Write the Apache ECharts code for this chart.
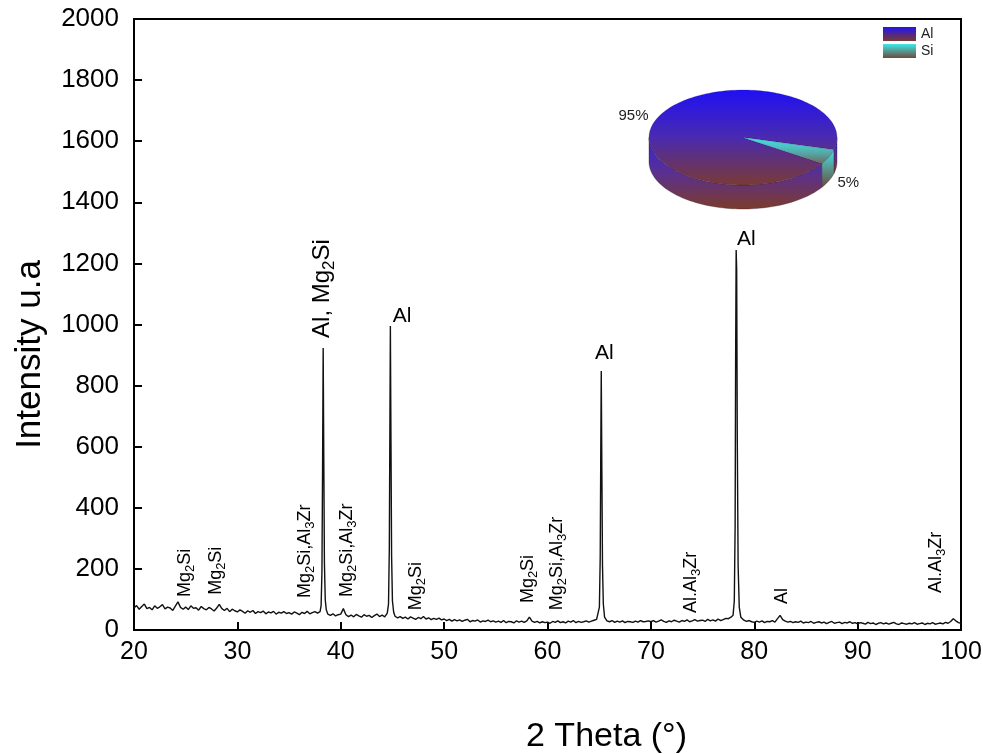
<!DOCTYPE html>
<html>
<head>
<meta charset="utf-8">
<script src="https://cdn.jsdelivr.net/npm/echarts@6/dist/echarts.min.js"></script>
<style>html,body{margin:0;padding:0;background:#fff}#chart{width:983px;height:754px}</style>
</head>
<body>
<div id="chart"></div>
<script>
// ---------- data ----------
const xTickValues = [20, 30, 40, 50, 60, 70, 80, 90, 100];
const yTickValues = [0, 200, 400, 600, 800, 1000, 1200, 1400, 1600, 1800, 2000];

// background intensity sampled every 0.25 deg from 20 to 100
const bgStart = 20, bgStep = 0.25;
const background = [
  72,80,68,77,85,70,74,66,79,71,76,83,69,75,72,64,78,92,74,68,
  75,67,79,71,73,65,77,70,66,74,69,62,72,84,70,64,71,60,68,63,
  59,66,61,55,63,58,64,54,60,57,62,53,59,56,61,52,58,55,60,54,
  57,52,59,55,50,58,54,61,53,57,60,55,58,56,55,52,48,53,46,50,
  52,70,50,44,49,43,51,46,42,50,45,48,41,47,52,44,49,43,55,50,
  48,45,40,44,38,42,36,43,39,35,41,37,44,36,40,34,38,35,39,33,
  36,31,35,29,34,30,33,28,32,35,27,31,29,33,26,30,28,32,27,30,
  26,29,25,31,24,28,27,23,30,26,29,25,30,42,29,25,28,23,27,24,
  26,22,28,25,30,24,27,23,29,26,31,24,28,25,27,30,26,29,32,35,
  40,36,34,30,27,31,25,29,26,30,24,28,27,25,29,26,31,27,28,30,
  27,31,26,29,33,28,25,30,27,32,29,26,31,28,33,27,30,34,29,31,
  32,28,35,30,33,29,36,31,34,38,37,42,45,44,42,40,32,28,31,27,
  25,29,26,30,24,28,27,31,26,37,48,34,29,26,28,24,27,25,29,23,
  26,24,28,22,25,27,23,26,21,25,28,22,24,26,21,25,23,27,22,24,
  20,24,22,19,25,21,23,18,22,24,20,23,19,22,25,20,18,23,21,19,
  22,20,24,19,21,23,18,22,20,24,19,21,23,20,25,22,28,37,30,24,
  22
];

// main reflections measured finer: [2theta, intensity]
const peakCenters = [38.3, 44.8, 65.2, 78.25];
const peakPoints = [
  [38.0,60],[38.1,80],[38.18,190],[38.24,520],[38.3,923],[38.36,560],[38.42,220],[38.5,100],[38.6,66],
  [44.5,55],[44.62,85],[44.7,270],[44.75,640],[44.8,995],[44.86,610],[44.92,240],[45.0,95],[45.12,58],
  [64.9,40],[65.02,75],[65.1,240],[65.15,560],[65.2,848],[65.26,520],[65.32,210],[65.4,85],[65.52,42],
  [77.95,48],[78.07,95],[78.15,340],[78.2,900],[78.25,1244],[78.3,1180],[78.36,620],[78.44,210],[78.55,75],[78.7,42]
];

// phase annotations
const annotationText = ['Mg2Si','Mg2Si','Mg2Si,Al3Zr','Al, Mg2Si','Mg2Si,Al3Zr','Al','Mg2Si','Mg2Si','Mg2Si,Al3Zr','Al','Al.Al3Zr','Al','Al','Al.Al3Zr'];
const annotationX    = [24.94, 27.94, 36.55, 38.2, 40.6, 45.94, 47.3, 58.14, 60.95, 65.5, 73.92, 79.24, 82.73, 97.54];
const annotationY    = [108, 115, 105, 956, 108, 1028, 65, 88, 65, 905, 56, 1278, 85, 121];
const annotationKind = ['minor','minor','minor','majorRot','minor','major','minor','minor','minor','major','minor','major','minor','minor'];

// inset pie (phase fraction)
const pieNames = ['Al', 'Si'];
const pieValues = [95, 5];

// ---------- build ----------
const xrd = [];
background.forEach(function (v, i) {
  const x = bgStart + i * bgStep;
  const near = peakCenters.some(function (c) { return Math.abs(x - c) <= 0.31; });
  if (!near) xrd.push([x, v]);
});
peakPoints.forEach(function (p) { xrd.push([p[0], p[1]]); });
xrd.sort(function (a, b) { return a[0] - b[0]; });

const FONT = '"Liberation Sans", Arial, sans-serif';
const kindStyle = {
  minor:    { fontSize: 18, lineHeight: 24, rotate: 90, align: 'left',   sub: { fontSize: 13, lineHeight: 13 } },
  majorRot: { fontSize: 24, lineHeight: 31, rotate: 90, align: 'left',   sub: { fontSize: 17, lineHeight: 17 } },
  major:    { fontSize: 21, lineHeight: 24, rotate: 0,  align: 'center', sub: { fontSize: 15, lineHeight: 15 } }
};
const annData = annotationText.map(function (t, i) {
  const k = kindStyle[annotationKind[i]];
  return {
    value: [annotationX[i], annotationY[i]],
    label: {
      show: true,
      position: ['50%', '50%'],
      rotate: k.rotate,
      align: k.align,
      verticalAlign: 'middle',
      fontSize: k.fontSize,
      lineHeight: k.lineHeight,
      fontFamily: FONT,
      color: '#000',
      opacity: 1,
      formatter: t.replace(/(\d)/g, '{s|$1}'),
      rich: { s: { fontSize: k.sub.fontSize, lineHeight: k.sub.lineHeight, verticalAlign: 'bottom', fontFamily: FONT, color: '#000' } }
    }
  };
});

// pie geometry
const PIE = { cx: 743, cy: 137.5, rx: 94, ry: 47.5, depth: 24, start: 33 };
const pieTotal = pieValues.reduce(function (a, b) { return a + b; }, 0);
function sliceRange(i) {
  let a = PIE.start;
  for (let k = 0; k < i; k++) a += pieValues[k] / pieTotal * 360;
  return [a, a + pieValues[i] / pieTotal * 360];
}
function ellPt(t, dy) {
  const r = t * Math.PI / 180;
  return [PIE.cx + PIE.rx * Math.cos(r), PIE.cy + PIE.ry * Math.sin(r) + (dy || 0)];
}
function arcPts(a, b, dy) {
  const pts = [];
  const n = Math.max(2, Math.ceil((b - a) / 2));
  for (let j = 0; j <= n; j++) pts.push(ellPt(a + (b - a) * j / n, dy));
  return pts;
}
const G = echarts.graphic.LinearGradient;
const pieColors = [
  { top: [['0','#1f10f4'],['0.5','#4a2ab0'],['1','#7a3a34']], side: [['0','#3524dc'],['0.5','#5a3090'],['1','#7c3b2a']], legend: [['0','#2414f0'],['1','#7a3a30']] },
  { top: [['0','#3ee8ea'],['0.6','#55a8a8'],['1','#6e6a5c']], side: [['0','#44e4e6'],['1','#6a4a3a']], legend: [['0','#3ee8ea'],['1','#6e4a3a']] }
];
function grad(stops) {
  return new G(0, 0, 0, 1, stops.map(function (s) { return { offset: +s[0], color: s[1] }; }));
}
function makeRender(i) {
  return function (params, api) {
    const r = sliceRange(i);
    const a = r[0], b = r[1];
    const children = [];
    [0, 360].forEach(function (k) {
      const s = Math.max(a, k), e = Math.min(b, k + 180);
      if (e > s) {
        const top = arcPts(s, e, 0), bot = arcPts(s, e, PIE.depth).reverse();
        children.push({ type: 'polygon', shape: { points: top.concat(bot) },
          style: { fill: grad(pieColors[i].side), stroke: 'rgba(30,20,40,0.55)', lineWidth: 0.6 } });
      }
    });
    children.push({ type: 'polygon', shape: { points: [[PIE.cx, PIE.cy]].concat(arcPts(a, b, 0)) },
      style: { fill: grad(pieColors[i].top), stroke: 'rgba(30,20,40,0.35)', lineWidth: 0.5 } });
    const m = (a + b) / 2 * Math.PI / 180;
    const c = Math.cos(m), sn = Math.sin(m);
    children.push({ type: 'text', x: PIE.cx + 1.1 * PIE.rx * c, y: PIE.cy + 1.1 * PIE.ry * sn + (sn > 0 ? PIE.depth : 0),
      style: { text: Math.round(api.value(0) / pieTotal * 100) + '%', align: c < 0 ? 'right' : 'left', verticalAlign: 'middle',
        fontSize: 15, fontFamily: FONT, fill: '#222' } });
    return { type: 'group', children: children };
  };
}
const pieSeries = pieNames.map(function (n, i) {
  return { type: 'custom', name: n, coordinateSystem: 'none', silent: true, z: 5,
    itemStyle: { color: grad(pieColors[i].legend) },
    data: [pieValues[i]], renderItem: makeRender(i) };
});

const chart = echarts.init(document.getElementById('chart'), null, { renderer: 'canvas' });
chart.setOption({
  animation: false,
  backgroundColor: '#fff',
  grid: { left: 134, right: 22, top: 19, bottom: 124, show: true, borderColor: '#000', borderWidth: 2,
    backgroundColor: 'transparent', containLabel: false, outerBoundsMode: 'none' },
  legend: {
    data: pieNames, orient: 'vertical', left: 883, top: 27, padding: 0, itemGap: 3,
    itemWidth: 33, itemHeight: 14, icon: 'rect', selectedMode: false,
    textStyle: { fontSize: 14, fontFamily: FONT, color: '#222' }
  },
  xAxis: {
    type: 'value', min: xTickValues[0], max: xTickValues[xTickValues.length - 1], interval: 10,
    name: '2 Theta (°)', nameLocation: 'middle', nameGap: 90,
    nameTextStyle: { fontSize: 34, fontFamily: FONT, color: '#000', padding: [0, 0, 0, 118] },
    axisLine: { onZero: false, lineStyle: { color: '#000', width: 2 } },
    axisTick: { inside: true, length: 8, lineStyle: { color: '#000', width: 2 } },
    axisLabel: { fontSize: 25, fontFamily: FONT, color: '#000', margin: 10, formatter: function (v) { return String(v); } },
    splitLine: { show: false }
  },
  yAxis: {
    type: 'value', min: yTickValues[0], max: yTickValues[yTickValues.length - 1], interval: 200,
    name: 'Intensity u.a', nameLocation: 'middle', nameGap: 86,
    nameTextStyle: { fontSize: 35, fontFamily: FONT, color: '#000', padding: [0, 60, 0, 0] },
    axisLine: { onZero: false, lineStyle: { color: '#000', width: 2 } },
    axisTick: { inside: true, length: 8, lineStyle: { color: '#000', width: 2 } },
    axisLabel: { fontSize: 26, fontFamily: FONT, color: '#000', margin: 15, formatter: function (v) { return String(v); } },
    splitLine: { show: false }
  },
  series: [
    { type: 'line', name: 'XRD', data: xrd, showSymbol: false, symbol: 'none', silent: true,
      lineStyle: { color: '#111', width: 1.4 }, z: 3 },
    { type: 'scatter', name: 'phases', data: annData, symbolSize: 1, silent: true, z: 4,
      itemStyle: { color: 'rgba(0,0,0,0)' } }
  ].concat(pieSeries)
});
</script>
</body>
</html>
